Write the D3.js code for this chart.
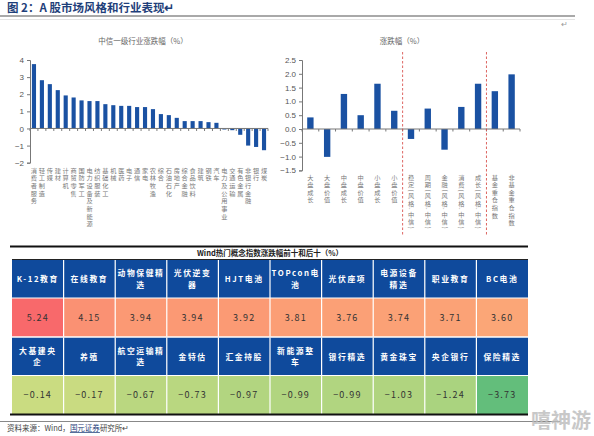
<!DOCTYPE html>
<html><head><meta charset="utf-8">
<script src="https://cdn.jsdelivr.net/npm/d3@7"></script>
<style>
body{margin:0;background:#fff;}
svg{display:block;font-family:"Noto Sans CJK SC","Noto Sans",sans-serif;}
</style></head>
<body><svg id="c" width="594" height="436"></svg>
<script>
// ---------- data ----------
const industries = ["消费者服务","轻工制造","传媒","建材","计算机","商贸零售","国防军工","电力设备及新能源","纺织服装","基础化工","机械","医药","电子","通信","家电","农林牧渔","综合","石油石化","房地产","综合金融","食品饮料","建筑","钢铁","汽车","电力及公用事业","交通运输","有色金属","非银行金融","银行","煤炭"];
const industryValues = [3.76,2.82,2.59,2.24,1.93,1.81,1.64,1.60,1.60,1.42,1.36,1.32,1.32,1.25,1.25,1.13,0.84,0.78,0.62,0.43,0.43,0.43,0.37,0.33,-0.06,-0.10,-0.37,-1.00,-1.08,-1.27];
const industryTicks = [4,3,2,1,0,-1,-2];

const styles = ["大盘成长","大盘价值","中盘成长","中盘价值","小盘成长","小盘价值","稳定(风格.中信)","周期(风格.中信)","金融(风格.中信)","消费(风格.中信)","成长(风格.中信)","基金重仓指数","非基金重仓指数"];
const styleValues = [0.42,-1.01,1.27,0.50,1.64,0.66,-0.36,0.74,-0.75,0.80,1.64,1.37,1.98];
const styleTicks = [2.5,2.0,1.5,1.0,0.5,0.0,-0.5,-1.0,-1.5];
const styleGroupBreaks = ["小盘价值","成长(风格.中信)"];

const topNames = ["K-12教育","在线教育","动物保健精\n选","光伏逆变\n器","HJT电池","TOPcon电\n池","光伏座项","电源设备\n精选","职业教育","BC电池"];
const topValues = [5.24,4.15,3.94,3.94,3.92,3.81,3.76,3.74,3.71,3.60];
const bottomNames = ["大基建央\n企","养殖","航空运输精\n选","金特估","汇金持股","新能源整\n车","银行精选","黄金珠宝","央企银行","保险精选"];
const bottomValues = [-0.14,-0.17,-0.67,-0.73,-0.97,-0.99,-0.99,-1.03,-1.24,-3.73];

const svg = d3.select("#c");
const barColor = "#1a51a2";
const axisColor = "#777";

// vertical stacked label: one text element, one tspan per character
function verticalLabel(g, label, cx, y0, fs, adv, fill){
  const t = g.append("text").attr("font-size",fs).attr("fill",fill);
  let y = y0;
  Array.from(label).forEach(ch=>{
    const narrow = "().".includes(ch);
    if(narrow){
      const a = fs*0.55;
      t.append("tspan").attr("x",cx - fs*0.3).attr("y",y+0.3).attr("rotate",90)
        .attr("text-anchor","start").text(ch);
      y += a;
    } else {
      t.append("tspan").attr("x",cx).attr("y",y+fs*0.9).attr("text-anchor","middle").text(ch);
      y += adv;
    }
  });
}

// ---------- header ----------
svg.append("text").attr("x",7).attr("y",12).attr("font-size",11.5).attr("font-weight","bold")
  .attr("fill","#1f3f7a").text("图 2：A 股市场风格和行业表现↵");
svg.append("line").attr("x1",0).attr("x2",575).attr("y1",16).attr("y2",16).attr("stroke","#555").attr("stroke-width",1.2);
svg.append("line").attr("x1",0).attr("x2",575).attr("y1",19.5).attr("y2",19.5).attr("stroke","#ddd").attr("stroke-width",0.8);
svg.append("text").attr("x",561).attr("y",27).attr("font-size",8).attr("fill","#999").text("↵");

// ---------- left chart ----------
{
  const x0 = 30, x1 = 268;
  const x = d3.scaleBand().domain(industries).range([x0,x1]).paddingInner(0.48).paddingOuter(0.24);
  const y = d3.scaleLinear().domain([-2,4]).range([162.7,60]);
  const g = svg.append("g");
  g.append("text").attr("x",143).attr("y",44).attr("text-anchor","middle").attr("font-size",7.5).attr("fill","#666")
    .text("中信一级行业涨跌幅（%）");
  g.selectAll("rect").data(industryValues).join("rect")
    .attr("x",(d,i)=>x(industries[i])).attr("width",x.bandwidth())
    .attr("y",d=>y(Math.max(0,d))).attr("height",d=>Math.abs(y(d)-y(0)))
    .attr("fill",barColor);
  const ya = g.append("g").attr("transform",`translate(${x0},0)`)
    .call(d3.axisLeft(y).tickValues(industryTicks).tickSize(3).tickFormat(d3.format("d")));
  ya.selectAll("text").attr("font-size",8).attr("fill","#555").attr("x",-6);
  ya.select(".domain").attr("stroke",axisColor);
  ya.selectAll(".tick line").attr("stroke",axisColor);
  const stepW = (x1-x0)/industries.length;
  g.append("line").attr("x1",x0).attr("x2",x1).attr("y1",y(0)).attr("y2",y(0)).attr("stroke",axisColor);
  g.selectAll(".ct").data(d3.range(industries.length+1)).join("line")
    .attr("x1",i=>x0+i*stepW).attr("x2",i=>x0+i*stepW)
    .attr("y1",y(0)).attr("y2",y(0)+2.5).attr("stroke",axisColor);
  industries.forEach(d=>verticalLabel(g, d, x(d)+x.bandwidth()/2, 167, 6.2, 7.7, "#777"));
}

// ---------- right chart ----------
{
  const x0 = 302, x1 = 520;
  const x = d3.scaleBand().domain(styles).range([x0,x1]).paddingInner(0.62).paddingOuter(0.31);
  const y = d3.scaleLinear().domain([-1.5,2.5]).range([170.4,60]);
  const g = svg.append("g");
  g.append("text").attr("x",402).attr("y",44).attr("text-anchor","middle").attr("font-size",7.5).attr("fill","#666")
    .text("涨跌幅（%）");
  g.selectAll("rect").data(styleValues).join("rect")
    .attr("x",(d,i)=>x(styles[i])).attr("width",x.bandwidth())
    .attr("y",d=>y(Math.max(0,d))).attr("height",d=>Math.abs(y(d)-y(0)))
    .attr("fill",barColor);
  const ya = g.append("g").attr("transform",`translate(${x0},0)`)
    .call(d3.axisLeft(y).tickValues(styleTicks).tickSize(3).tickFormat(d3.format(".1f")));
  ya.selectAll("text").attr("font-size",8).attr("fill","#555").attr("x",-6);
  ya.select(".domain").attr("stroke",axisColor);
  ya.selectAll(".tick line").attr("stroke",axisColor);
  g.append("line").attr("x1",x0).attr("x2",x1).attr("y1",y(0)).attr("y2",y(0)).attr("stroke",axisColor);
  g.selectAll(".ct").data(d3.range(styles.length+1)).join("line")
    .attr("x1",i=>x0+i*x.step()).attr("x2",i=>x0+i*x.step())
    .attr("y1",y(0)).attr("y2",y(0)+2.5).attr("stroke",axisColor);
  g.selectAll(".sep").data(styleGroupBreaks).join("line")
    .attr("x1",d=>x(d)+x.bandwidth()+x.step()*x.paddingInner()/2)
    .attr("x2",d=>x(d)+x.bandwidth()+x.step()*x.paddingInner()/2)
    .attr("y1",52).attr("y2",236).attr("stroke","#d9534f").attr("stroke-width",0.9).attr("stroke-dasharray","2.5,2");
  styles.forEach(d=>verticalLabel(g, d, x(d)+x.bandwidth()/2, 174, 6.2, 7.6, "#777"));
}

// ---------- table ----------
{
  const tx0 = 12, tx1 = 528;
  const n = topNames.length;
  const cw = (tx1-tx0)/n;
  const allVals = topValues.concat(bottomValues);
  const mid = d3.median(allVals);
  const color = d3.scaleLinear().domain([d3.min(allVals), mid, d3.max(allVals)])
    .range(["#63BE7B","#FFEB84","#F8696B"]);
  const headBlue = "#0f4a9c";
  svg.append("line").attr("x1",10).attr("x2",tx1).attr("y1",246.5).attr("y2",246.5).attr("stroke","#111").attr("stroke-width",2);
  svg.append("text").attr("x",(tx0+tx1)/2).attr("y",256).attr("text-anchor","middle").attr("font-size",7.5)
    .attr("font-weight","bold").attr("fill","#222").text("Wind热门概念指数涨跌幅前十和后十（%）");
  svg.append("line").attr("x1",tx0).attr("x2",tx1).attr("y1",259.5).attr("y2",259.5).attr("stroke","#222").attr("stroke-width",1);

  const rows = [
    {names: topNames, vals: topValues, hy: 260, vy: 298},
    {names: bottomNames, vals: bottomValues, hy: 337.5, vy: 375.5}
  ];
  const hh = 38, vh = 38.5;
  rows.forEach(r=>{
    const g = svg.append("g");
    g.selectAll(".h").data(r.names).join("rect")
      .attr("x",(d,i)=>tx0+i*cw).attr("y",r.hy).attr("width",cw).attr("height",hh).attr("fill",headBlue);
    g.selectAll(".v").data(r.vals).join("rect")
      .attr("x",(d,i)=>tx0+i*cw).attr("y",r.vy).attr("width",cw).attr("height",vh).attr("fill",d=>color(d));
    r.names.forEach((nm,i)=>{
      const lines = nm.split("\n");
      const cx = tx0+i*cw+cw/2;
      const cy = r.hy+hh/2;
      const lh = 11.5;
      lines.forEach((ln,k)=>{
        g.append("text").attr("x",cx).attr("y",cy+(k-(lines.length-1)/2)*lh+3)
          .attr("text-anchor","middle").attr("font-size",7.8).attr("font-weight","bold")
          .attr("letter-spacing",1.6).attr("fill","#fff").text(ln);
      });
    });
    g.selectAll(".vt").data(r.vals).join("text")
      .attr("x",(d,i)=>tx0+i*cw+cw/2).attr("y",r.vy+vh/2+3.5).attr("text-anchor","middle")
      .attr("font-size",9).attr("letter-spacing",1.2).attr("fill","#333")
      .text(d=>d3.format(".2f")(d).replace("-","−"));
    g.selectAll(".vl").data(d3.range(1,n)).join("line")
      .attr("x1",i=>tx0+i*cw).attr("x2",i=>tx0+i*cw).attr("y1",r.hy).attr("y2",r.vy+vh)
      .attr("stroke","#fff").attr("stroke-width",1.2);
    g.append("line").attr("x1",tx0).attr("x2",tx1).attr("y1",r.vy).attr("y2",r.vy).attr("stroke","#fff").attr("stroke-width",1);
  });
  svg.append("line").attr("x1",tx0).attr("x2",tx1).attr("y1",337).attr("y2",337).attr("stroke","#fff").attr("stroke-width",1);
  svg.append("line").attr("x1",10).attr("x2",tx1).attr("y1",414.5).attr("y2",414.5).attr("stroke","#111").attr("stroke-width",2);
}

// ---------- footer ----------
svg.append("line").attr("x1",0).attr("x2",560).attr("y1",421.5).attr("y2",421.5).attr("stroke","#888").attr("stroke-width",1.2);
const src = svg.append("text").attr("x",7).attr("y",431).attr("font-size",7.5).attr("fill","#444");
src.append("tspan").text("资料来源：Wind，");
src.append("tspan").attr("text-decoration","underline").attr("fill","#1f3f7a").text("国元证券");
src.append("tspan").text("研究所↵");
svg.append("text").attr("x",591).attr("y",428).attr("text-anchor","end").attr("font-size",20).attr("font-weight","bold")
  .attr("fill","#bbb").attr("opacity",0.8).text("嘻神游");
</script></body></html>
